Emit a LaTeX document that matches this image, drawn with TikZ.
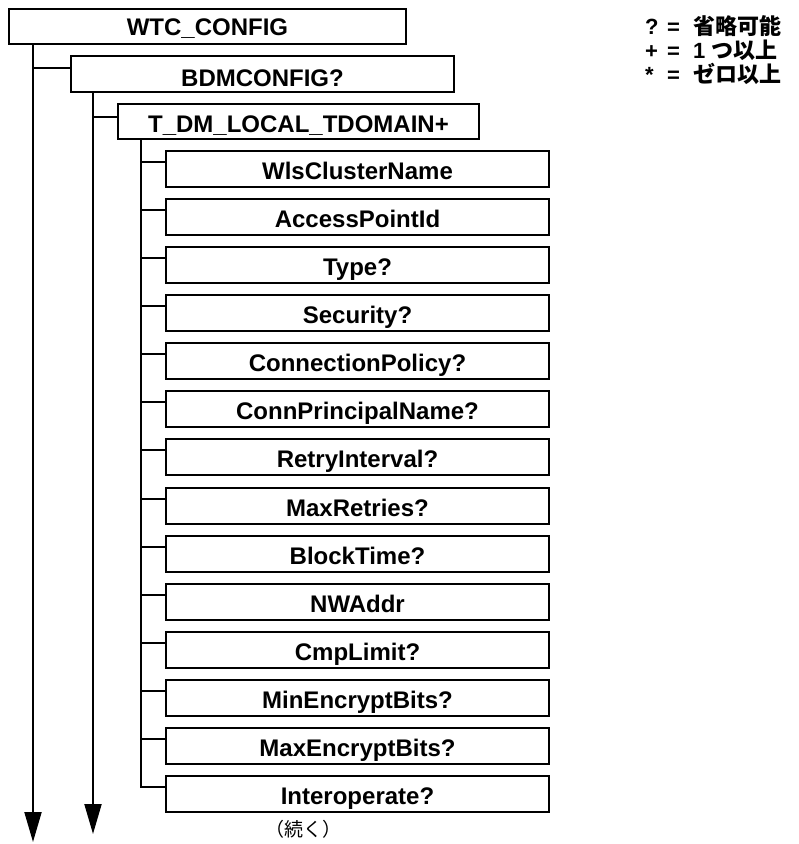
\documentclass[tikz,border=0pt]{standalone}
\usepackage{fontspec}
\setmainfont{Liberation Sans}
\newfontfamily\jpfont{Noto Sans CJK JP}
\usetikzlibrary{arrows.meta}

\begin{document}
\begin{tikzpicture}[x=1pt,y=-1pt,
  elem/.style={draw,line width=2pt,anchor=north west,inner sep=0pt,
    minimum height=36pt,text height=21pt,text depth=0pt,
    font=\fontsize{24}{28}\selectfont\bfseries},
  wire/.style={line width=2pt},
  trunk/.style={line width=2pt,-{Triangle[length=30pt,width=17pt]}},
  legend/.style={anchor=west,inner sep=0pt,font=\fontsize{22}{24}\selectfont\bfseries}]
\useasboundingbox (0,0) rectangle (799,844);

% top-level elements
\node[elem,minimum width=397pt,minimum height=35pt,text height=17pt] (wtc) at (8,8) {WTC\_CONFIG};
\node[elem,minimum width=383pt,text height=24pt] (bdm) at (70,55) {BDMCONFIG?};
\node[elem,minimum width=361pt,minimum height=35pt,text height=22pt] (tdm) at (117,103) {T\_DM\_LOCAL\_TDOMAIN+};

% children of T_DM_LOCAL_TDOMAIN
\foreach \lbl [count=\i from 0] in {WlsClusterName,AccessPointId,Type?,Security?,
    ConnectionPolicy?,ConnPrincipalName?,RetryInterval?,MaxRetries?,BlockTime?,
    NWAddr,CmpLimit?,MinEncryptBits?,MaxEncryptBits?,Interoperate?}{
  \pgfmathsetmacro\ytop{150+round(\i*48.08)}
  \node[elem,minimum width=383pt] (c\i) at (165,\ytop) {\lbl};
  \coordinate (j\i) at ([yshift=-12pt]c\i.north west);
}

% trunks
\coordinate (end1) at (33,842);
\coordinate (end2) at (93,834);
\coordinate (jb) at ([yshift=-13pt]bdm.north west);
\coordinate (jt) at ([yshift=-14pt]tdm.north west);
\draw[trunk] ([xshift=25pt]wtc.south west) -- (end1);
\draw[trunk] ([xshift=23pt]bdm.south west) -- (end2);
\draw[wire] (jb -| end1) -- (jb);
\draw[wire] (jt -| end2) -- (jt);
\coordinate (t3) at ([xshift=24pt]tdm.south west);
\draw[wire] (t3) |- (j13);
\foreach \i in {0,...,12}{
  \draw[wire] (j\i -| t3) -- (j\i);
}

% legend
\node[legend] (l1) at (645,26) {\makebox[22pt][l]{?}\makebox[26pt][l]{=}{\jpfont 省略可能}};
\node[legend] (l2) at (645,50) {\makebox[22pt][l]{+}\makebox[26pt][l]{=}1\hspace{6pt}{\jpfont つ以上}};
\node[legend] (l3) at (645,74) {\makebox[22pt][l]{*}\makebox[26pt][l]{=}{\jpfont ゼロ以上}};

% continuation note
\node[font=\fontsize{19}{21}\selectfont\jpfont,inner sep=0pt] (cont) at (303,829) {（続く）};
\end{tikzpicture}
\end{document}
